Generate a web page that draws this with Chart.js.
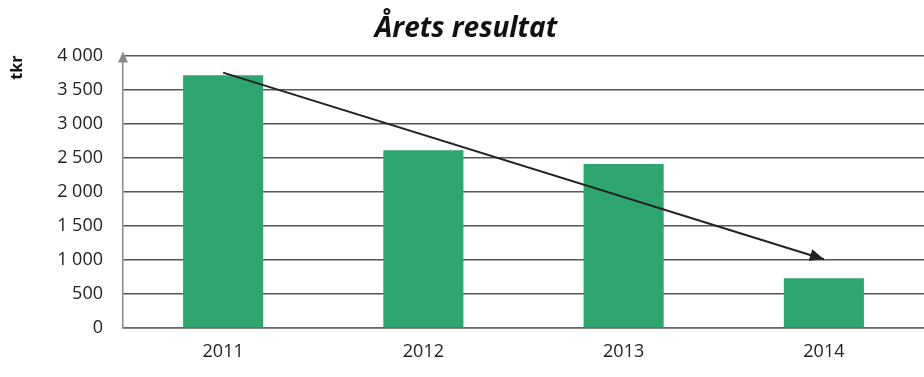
<!DOCTYPE html>
<html lang="sv">

<head>
  <meta charset="UTF-8">
  <title>Årets resultat</title>
  <script src="https://cdn.jsdelivr.net/npm/chart.js"></script>
  <style>
    html, body { margin: 0; padding: 0; background: #fff; }
    #wrap { width: 924px; height: 377px; }
  </style>
</head>

<body>
  <div id="wrap"><canvas id="resultChart" width="924" height="377"></canvas></div>
  <script>
    var years = ['2011', '2012', '2013', '2014'];
    var result = [3710, 2610, 2410, 730];
    // trend arrow, start at 2011 and end at 2014
    var trend = [3750, null, null, 1010];
    var yTicks = [0, 500, 1000, 1500, 2000, 2500, 3000, 3500, 4000];

    function fmt(v) {
      return String(v).replace(/\B(?=(\d{3})+(?!\d))/g, ' ');
    }

    var arrowPlugin = {
      id: 'arrows',
      afterDatasetsDraw: function (chart) {
        var ctx = chart.ctx;
        var pts = chart.getDatasetMeta(1).data;
        var a = pts[0], b = pts[3];
        var ang = Math.atan2(b.y - a.y, b.x - a.x);
        ctx.save();
        ctx.fillStyle = '#222';
        ctx.beginPath();
        ctx.moveTo(b.x, b.y);
        ctx.lineTo(b.x - 14 * Math.cos(ang) + 6 * Math.sin(ang), b.y - 14 * Math.sin(ang) - 6 * Math.cos(ang));
        ctx.lineTo(b.x - 14 * Math.cos(ang) - 6 * Math.sin(ang), b.y - 14 * Math.sin(ang) + 6 * Math.cos(ang));
        ctx.closePath();
        ctx.fill();

        // little arrow head on top of the y axis
        var x0 = chart.scales.y.right;
        var top = chart.chartArea.top;
        ctx.fillStyle = '#888';
        ctx.beginPath();
        ctx.moveTo(x0, top - 4);
        ctx.lineTo(x0 - 5, top + 7);
        ctx.lineTo(x0 + 5, top + 7);
        ctx.closePath();
        ctx.fill();
        ctx.restore();
      }
    };

    new Chart(document.getElementById('resultChart'), {
      data: {
        labels: years,
        datasets: [{
          type: 'bar',
          data: result,
          backgroundColor: '#2fa56f',
          barPercentage: 0.4,
          categoryPercentage: 1.0,
          order: 2
        }, {
          type: 'line',
          data: trend,
          spanGaps: true,
          borderColor: '#222',
          borderWidth: 2,
          pointRadius: 0,
          order: 1
        }]
      },
      options: {
        responsive: false,
        animation: false,
        layout: { padding: { top: 0, right: 0, bottom: 13, left: 8 } },
        plugins: {
          legend: { display: false },
          tooltip: { enabled: false },
          title: {
            display: true,
            text: 'Årets resultat',
            color: '#111',
            font: { family: 'Open Sans', size: 28, weight: 'bold', style: 'italic' },
            padding: { top: 12, bottom: 10 }
          }
        },
        scales: {
          x: {
            offset: true,
            grid: { display: false, drawTicks: false },
            border: { color: '#666', width: 1.5 },
            afterFit: function (axis) { axis.height = 36; },
            ticks: { color: '#222', font: { family: 'Open Sans', size: 18 }, padding: 13 }
          },
          y: {
            min: 0,
            max: 4000,
            afterBuildTicks: function (axis) {
              axis.ticks = yTicks.map(function (v) { return { value: v }; });
            },
            afterFit: function (axis) { axis.width = 115; },
            grid: { color: '#555', lineWidth: 1.5, drawTicks: false },
            border: { color: '#888', width: 1.5 },
            title: {
              display: true,
              text: 'tkr',
              align: 'end',
              color: '#111',
              font: { family: 'Open Sans', size: 16, weight: 'bold' },
              padding: { top: 0, bottom: 14 }
            },
            ticks: {
              color: '#222',
              padding: 20,
              font: { family: 'Open Sans', size: 18 },
              callback: function (v) { return fmt(v); }
            }
          }
        }
      },
      plugins: [arrowPlugin]
    });
  </script>
</body>

</html>
